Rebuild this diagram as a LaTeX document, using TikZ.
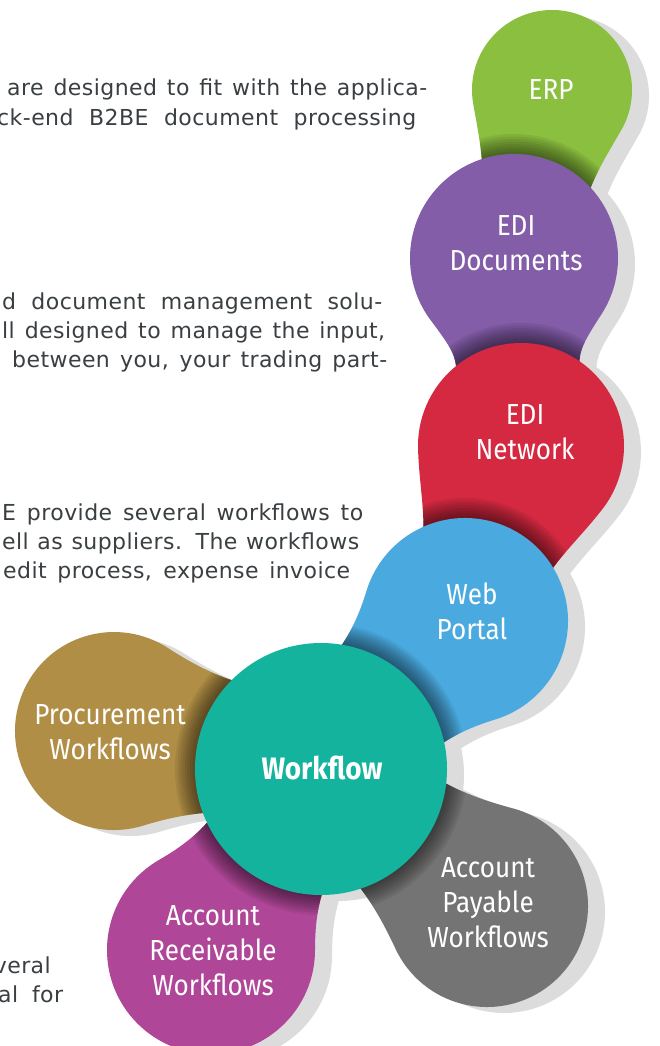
\documentclass[tikz,border=0pt]{standalone}
\usepackage{fontspec}
\newfontfamily\bodyfont[LetterSpace=2]{DejaVu Sans}
\newfontfamily\bulbfont[FakeStretch=0.9]{Fira Sans}
\definecolor{erpgreen}{HTML}{8BBF3F}
\definecolor{docpurple}{HTML}{835DA8}
\definecolor{netred}{HTML}{D42941}
\definecolor{webblue}{HTML}{4AAADF}
\definecolor{wfteal}{HTML}{14B39E}
\definecolor{procgold}{HTML}{B08E45}
\definecolor{recvmagenta}{HTML}{AF4697}
\definecolor{paygray}{HTML}{747474}
\definecolor{shadowgray}{HTML}{DCDCDC}
\definecolor{bodygray}{HTML}{3A3F42}
% bulb: radius, neck angle, neck length, neck half width
\newcommand{\bulb}[4]{(#2:#1) .. controls +(#2-90:0.5*#1) and +(180:0.35*#3) .. (#3,#4)
  -- (#3,-#4) .. controls +(180:0.35*#3) and +(90-#2:0.5*#1) .. (-#2:#1)
  arc[start angle=-#2, end angle=#2-360, radius=#1] -- cycle}
\newcommand{\bulbshadow}[6]{\fill[shadowgray, shift={(#1)}, shift={(17,-6)}, rotate=#2] \bulb{#3}{#4}{#5}{#6};}
\newcommand{\bulbfill}[9]{%
  \begin{scope}[shift={(#1)}, rotate=#2]
    \fill[#7] \bulb{#3}{#4}{#5}{#6};
    \clip \bulb{#3}{#4}{#5}{#6};
    \foreach \k in {1,...,8} \fill[black, opacity=.07] (#8) circle (#9+2.5*\k);
  \end{scope}}
\begin{document}
\begin{tikzpicture}[x=1pt,y=1pt,
    lbl/.style={text=white,align=center,inner sep=0pt,font=\bulbfont\fontsize{29}{35}\selectfont},
    para/.style={anchor=base west,inner sep=0pt,text=bodygray,font=\bodyfont\fontsize{22}{26}\selectfont}]
  \useasboundingbox (0,-1046) rectangle (660,0);
  \fill[white] (0,-1046) rectangle (660,0);

  \coordinate (erpc) at (552,-90);
  \coordinate (docsc) at (514,-258);
  \coordinate (netc) at (521,-446);
  \coordinate (portalc) at (465,-621);
  \coordinate (wfc) at (321,-769);
  \coordinate (procc) at (114,-731);
  \coordinate (recvc) at (211,-950);
  \coordinate (payc) at (487,-906);

  \bulbshadow{erpc}{-100}{80}{70}{140}{50}
  \bulbshadow{docsc}{-88}{104}{55}{150}{62}
  \bulbshadow{netc}{-108}{103}{70}{170}{58}
  \bulbshadow{portalc}{-135}{103}{62}{190}{65}
  \bulbshadow{procc}{-8}{99}{65}{190}{60}
  \bulbshadow{recvc}{60}{104}{60}{190}{62}
  \bulbshadow{payc}{140}{101}{65}{190}{60}
  \fill[shadowgray] ([shift={(17,-6)}]wfc) circle (126);

  \bulbfill{erpc}{-100}{80}{70}{140}{50}{erpgreen}{docsc}{104}
  \bulbfill{docsc}{-88}{104}{55}{150}{62}{docpurple}{netc}{103}
  \bulbfill{netc}{-108}{103}{70}{170}{58}{netred}{portalc}{103}
  \bulbfill{portalc}{-135}{103}{62}{190}{65}{webblue}{wfc}{126}
  \bulbfill{procc}{-8}{99}{65}{190}{60}{procgold}{wfc}{126}
  \bulbfill{recvc}{60}{104}{60}{190}{62}{recvmagenta}{wfc}{126}
  \bulbfill{payc}{140}{101}{65}{190}{60}{paygray}{wfc}{126}
  \fill[wfteal] (wfc) circle (126);

  \node[lbl] (erp) at (551,-90) {ERP};
  \node[lbl] (docs) at (516,-243) {EDI\\Documents};
  \node[lbl] (net) at (525,-432) {EDI\\Network};
  \node[lbl] (portal) at (472,-611) {Web\\Portal};
  \node[lbl,font=\bulbfont\bfseries\fontsize{31}{36}\selectfont] (wf) at (322,-768) {Workflow};
  \node[lbl] (proc) at (110,-732) {Procurement\\Workflows};
  \node[lbl] (recv) at (213,-951) {Account\\Receivable\\Workflows};
  \node[lbl] (pay) at (488,-903) {Account\\Payable\\Workflows};

  \node[para] (line1) at (7,-96) {\makebox[420pt][s]{are designed to fit with the applica-}};
  \node[para] (line2) at (-3,-126) {\makebox[419pt][s]{ck-end B2BE document processing}};
  \node[para] (line3) at (2,-309) {\makebox[380pt][s]{d document management solu-}};
  \node[para] (line4) at (2,-338) {\makebox[383pt][s]{ll designed to manage the input,}};
  \node[para] (line5) at (12,-367) {\makebox[375pt][s]{between you, your trading part-}};
  \node[para] (line6) at (2,-520) {\makebox[361pt][s]{E provide several workflows to}};
  \node[para] (line7) at (2,-549) {\makebox[357pt][s]{ell as suppliers. The workflows}};
  \node[para] (line8) at (3,-578) {\makebox[347pt][s]{edit process, expense invoice}};
  \node[para,anchor=base east] (line9) at (51,-973) {veral};
  \node[para] (line10) at (-2,-1002) {\makebox[65pt][s]{al for}};
\end{tikzpicture}
\end{document}
